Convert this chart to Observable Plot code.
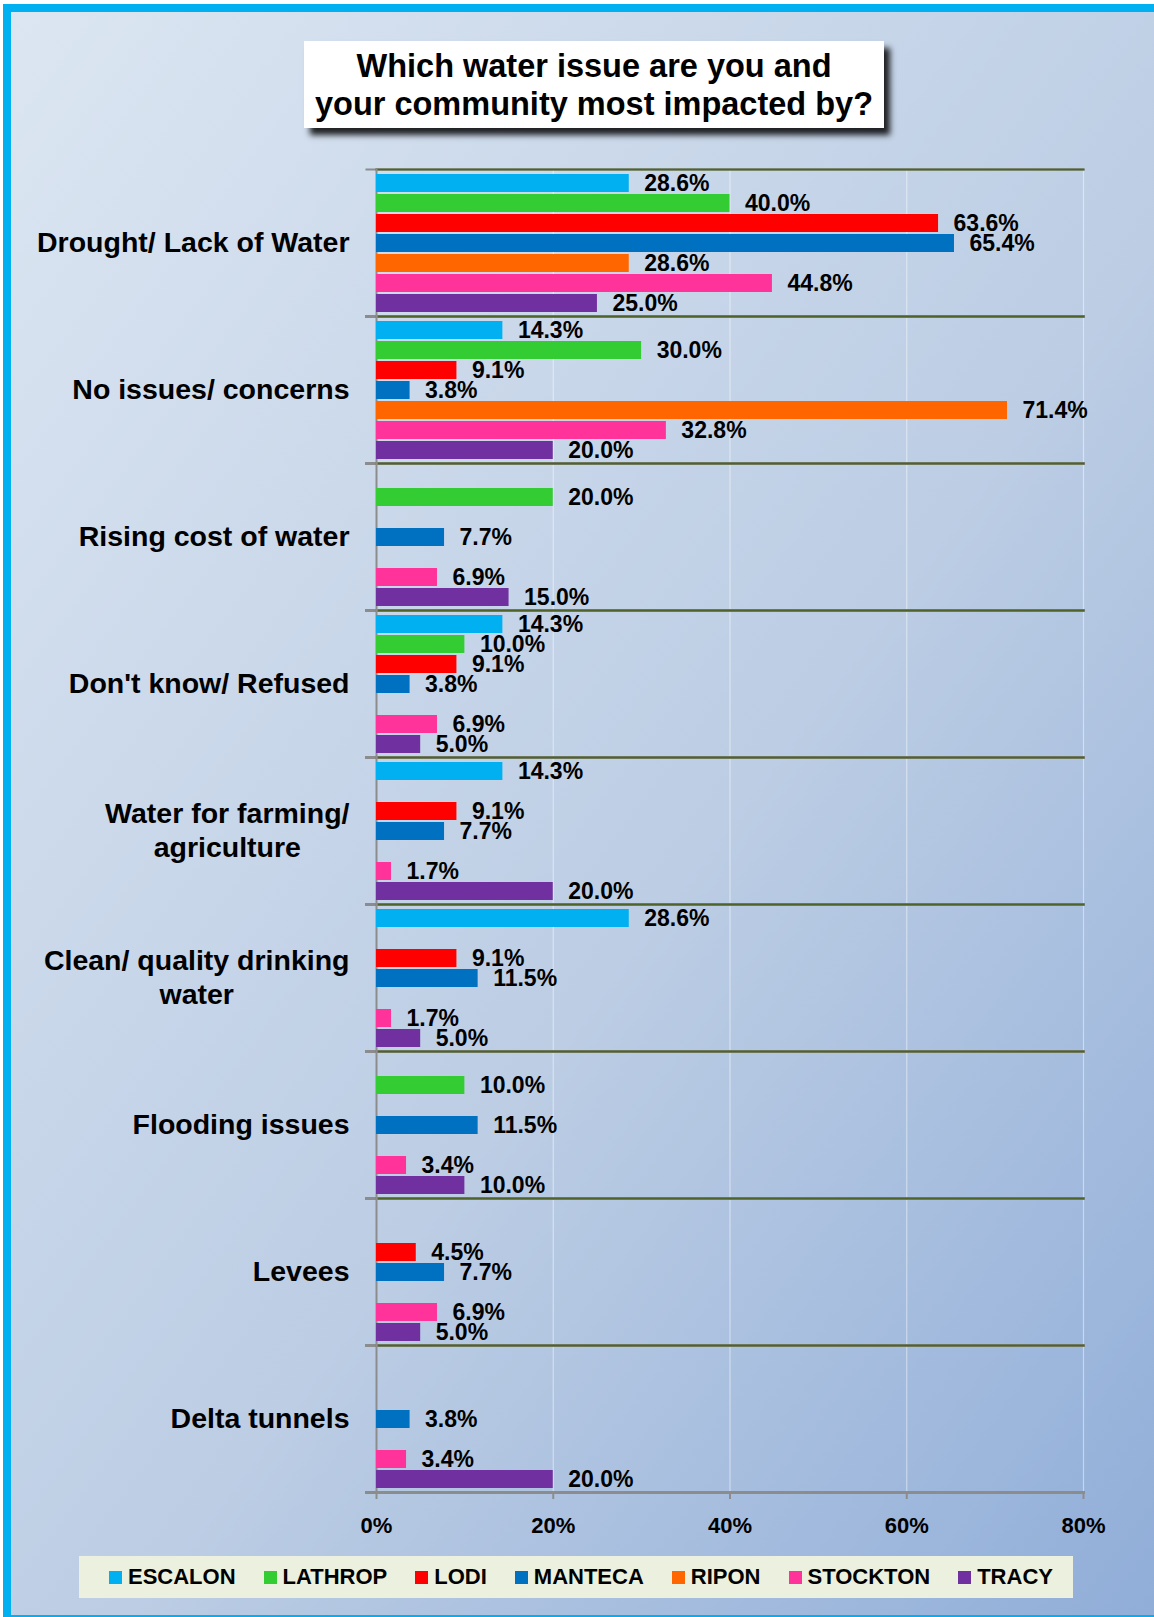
<!DOCTYPE html>
<html><head><meta charset="utf-8">
<script src="https://cdn.jsdelivr.net/npm/d3@7"></script>
<script src="https://cdn.jsdelivr.net/npm/@observablehq/plot@0.6"></script>
<style>
html,body{margin:0;padding:0;background:#fff;overflow:hidden;width:1154px;height:1617px;position:relative;font-family:"Liberation Sans",Arial,sans-serif;}
#bg{position:absolute;left:3px;top:4px;width:1200px;height:1603px;border:8px solid #00b0f0;background:linear-gradient(to bottom right,#dce6f2 0%,#bccde4 55%,#8eacd8 100%);}
#chart{position:absolute;left:0;top:0;z-index:2;}
#title{position:absolute;left:304px;top:41px;width:580px;height:87px;background:#fff;box-shadow:6px 7px 6px rgba(0,0,0,0.85);z-index:3;}
#title div{margin-top:6px;font-size:32.5px;font-weight:bold;line-height:38px;text-align:center;color:#000;}
#legend{position:absolute;left:79px;top:1556px;width:994px;height:42px;background:#ebf1de;display:flex;align-items:center;padding-left:30px;box-sizing:border-box;gap:28px;z-index:3;}
#legend .item{display:flex;align-items:center;font-size:22px;font-weight:bold;color:#000;}
#legend .sw{width:13px;height:13px;margin-right:6px;}
</style>
</head><body>
<div id="bg"></div>
<div id="title"><div>Which water issue are you and<br>your community most impacted by?</div></div>
<div id="chart"></div>
<div id="legend"></div>
<script>
const categories = [
  "Drought/ Lack of Water",
  "No issues/ concerns",
  "Rising cost of water",
  "Don't know/ Refused",
  "Water for farming/\nagriculture",
  "Clean/ quality drinking\nwater",
  "Flooding issues",
  "Levees",
  "Delta tunnels"
];
const cities = ["ESCALON", "LATHROP", "LODI", "MANTECA", "RIPON", "STOCKTON", "TRACY"];
const colors = ["#00b0f0", "#33cc33", "#ff0000", "#0070c0", "#ff6600", "#ff3399", "#7030a0"];

const escalon  = [28.6, 14.3, null, 14.3, 14.3, 28.6, null, null, null];
const lathrop  = [40.0, 30.0, 20.0, 10.0, null, null, 10.0, null, null];
const lodi     = [63.6,  9.1, null,  9.1,  9.1,  9.1, null,  4.5, null];
const manteca  = [65.4,  3.8,  7.7,  3.8,  7.7, 11.5, 11.5,  7.7,  3.8];
const ripon    = [28.6, 71.4, null, null, null, null, null, null, null];
const stockton = [44.8, 32.8,  6.9,  6.9,  1.7,  1.7,  3.4,  6.9,  3.4];
const tracy    = [25.0, 20.0, 15.0,  5.0, 20.0,  5.0, 10.0,  5.0, 20.0];

const xTicks = [0, 20, 40, 60, 80];

const series = [escalon, lathrop, lodi, manteca, ripon, stockton, tracy];
const data = [];
categories.forEach((c, i) => cities.forEach((city, j) => {
  const v = series[j][i];
  if (v != null) data.push({category: c, city, value: v});
}));

const gray = "#8c8c8c";
const svg = Plot.plot({
  width: 1154, height: 1545,
  marginLeft: 376, marginRight: 71, marginTop: 166, marginBottom: 50,
  style: {background: "transparent", fontFamily: "'Liberation Sans', Arial, sans-serif", fontWeight: "bold", color: "#000", overflow: "visible"},
  x: {domain: [0, 80]},
  y: {domain: cities, padding: 0.1, axis: null},
  fy: {domain: categories, padding: 0, label: null},
  color: {domain: cities, range: colors},
  marks: [
    Plot.gridX(xTicks.slice(1), {stroke: "#ffffff", strokeOpacity: 0.45, strokeWidth: 1.2}),
    Plot.frame({anchor: "bottom", stroke: gray, strokeWidth: 3, insetLeft: -10}),
    Plot.frame({anchor: "top", stroke: gray, strokeWidth: 2, insetLeft: -10}),
    Plot.frame({anchor: "top", stroke: "#4f6228", strokeWidth: 2}),
    Plot.frame({anchor: "left", stroke: gray, strokeWidth: 2}),
    Plot.barX(data, {fy: "category", y: "city", x: "value", fill: "city"}),
    Plot.text(data, {fy: "category", y: "city", x: "value", text: d => d.value.toFixed(1) + "%", dx: 15, textAnchor: "start", fontSize: 23, fontWeight: "bold", fill: "#000"}),
    Plot.axisX({ticks: xTicks, tickFormat: d => d + "%", tickSize: 7, tickPadding: 18, fontSize: 22, fontWeight: "bold", stroke: gray, strokeWidth: 2, label: null, anchor: "bottom"}),
    Plot.axisFy({anchor: "left", tickSize: 0, tickPadding: 27, fontSize: 28.5, fontWeight: "bold", label: null, lineHeight: 1.2, dy: -2})
  ]
});
document.getElementById("chart").append(svg);

// centre the lines of two-line category labels within their right-aligned block
svg.querySelectorAll("text").forEach(t => {
  const ts = t.querySelectorAll("tspan");
  if (ts.length > 1) {
    let w = 0;
    ts.forEach(s => { w = Math.max(w, s.getComputedTextLength()); });
    t.setAttribute("text-anchor", "middle");
    ts.forEach(s => s.setAttribute("x", -w / 2));
  }
});

const legend = document.getElementById("legend");
cities.forEach((c, i) => {
  const it = document.createElement("div");
  it.className = "item";
  const sw = document.createElement("span");
  sw.className = "sw";
  sw.style.background = colors[i];
  it.append(sw, document.createTextNode(c));
  legend.append(it);
});
</script>
</body></html>
